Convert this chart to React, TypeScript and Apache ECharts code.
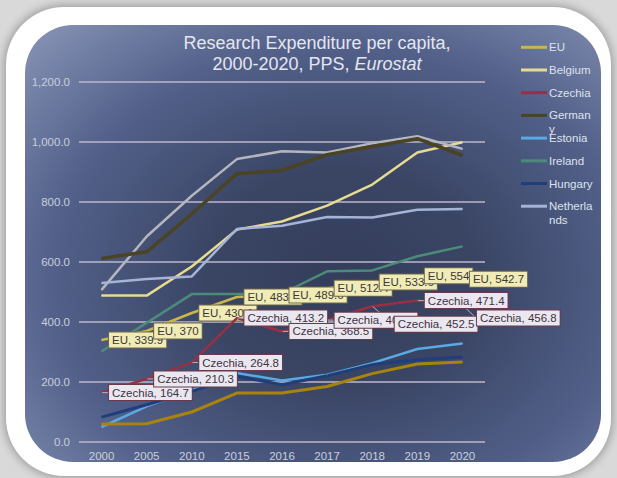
import React, { useEffect, useRef } from 'react';
import * as echarts from 'echarts';

const years = ['2000', '2005', '2010', '2015', '2016', '2017', '2018', '2019', '2020'];

const euValues = [339.9, 370, 430.1, 483.4, 489.6, 512.4, 533.6, 554, 542.7];
const belgiumValues = [488, 488, 585, 708, 735, 788, 858, 965, 999];
const czechiaValues = [164.7, 210.3, 264.8, 413.2, 368.5, 406.2, 452.5, 471.4, 456.8];
const germanyValues = [612, 634, 760, 894, 905, 958, 985, 1011, 955];
const estoniaValues = [50, 119, 174, 230, 205, 224, 263, 310, 328];
const irelandValues = [302, 397, 493, 493, 495, 569, 572, 619, 652];
const hungaryValues = [83, 124, 169, 219, 191, 221, 258, 274, 283];
const netherlandsValues = [530, 543, 552, 710, 721, 750, 748, 774, 777];
// two further series whose legend entries are cut off in the source chart
const hiddenGreyValues = [507, 685, 821, 943, 969, 965, 996, 1019, 977];
const hiddenGoldValues = [60, 61, 100, 163, 163, 185, 228, 260, 267];

const legendNames = ['EU', 'Belgium', 'Czechia', 'Germany', 'Estonia', 'Ireland', 'Hungary', 'Netherlands'];
const legendLabels = ['EU', 'Belgium', 'Czechia', 'German\ny', 'Estonia', 'Ireland', 'Hungary', 'Netherla\nnds'];

const colors: Record<string, string> = {
  EU: '#cbb64a',
  Belgium: '#e6db8e',
  Czechia: '#9a2f42',
  Germany: '#4a4324',
  Estonia: '#5aa9e2',
  Ireland: '#4b8c78',
  Hungary: '#203f7a',
  Netherlands: '#a5b3d8',
  Grey: '#b3b6be',
  Gold: '#a8840c',
};

const FONT = '"Liberation Sans", Arial, sans-serif';

// label nudges (Excel-style collision avoidance) for the crowded Czechia labels
const czechiaLabelNudge: Record<number, { dx: number; dy: number }> = {
  6: { dx: 15, dy: 18 },
  8: { dx: 7, dy: 13 },
};

function lineSeries(name: string, data: number[], color: string, width: number, extra: any = {}) {
  return {
    type: 'line',
    name,
    data,
    symbol: 'circle',
    symbolSize: 1,
    showSymbol: true,
    silent: true,
    lineStyle: { color, width },
    itemStyle: { color },
    ...extra,
  };
}

function labelCfg(prefix: string, bg: string, border: string, color: string) {
  return {
    show: true,
    position: 'right',
    distance: 7,
    formatter: (p: any) => `${prefix}, ${p.value}`,
    backgroundColor: bg,
    borderColor: border,
    borderWidth: 1,
    padding: [2, 3, 1, 3],
    color,
    fontSize: 11.5,
    fontFamily: FONT,
  };
}

export default function App() {
  const ref = useRef<HTMLDivElement>(null);

  useEffect(() => {
    if (!ref.current) return;
    const chart = echarts.init(ref.current, undefined, { renderer: 'svg' });

    const legendTop = 47.3;
    const legendStep = 22.7;
    const legendGraphics: any[] = [];
    legendNames.forEach((n, i) => {
      const y = legendTop + i * legendStep;
      legendGraphics.push({
        type: 'line',
        shape: { x1: 521, y1: y, x2: 547, y2: y },
        style: { stroke: colors[n], lineWidth: 3 },
        silent: true,
      });
      legendGraphics.push({
        type: 'text',
        x: 549,
        y: y - 7,
        style: {
          text: legendLabels[i],
          fill: '#dfe2ec',
          fontSize: 11.5,
          fontFamily: FONT,
          lineHeight: 14,
          verticalAlign: 'top',
          align: 'left',
        },
        silent: true,
      });
    });

    chart.setOption({
      animation: false,
      backgroundColor: 'transparent',
      title: {
        text: 'Research Expenditure per capita,\n2000-2020, PPS, {it|Eurostat}',
        left: 312,
        top: 27,
        textAlign: 'center',
        textStyle: {
          color: '#e4e6ee',
          fontSize: 18,
          fontWeight: 'normal',
          fontFamily: FONT,
          lineHeight: 21,
          rich: {
            it: { fontStyle: 'italic', color: '#e4e6ee', fontSize: 18, fontFamily: FONT, lineHeight: 21 },
          },
        },
      },
      grid: { left: 79, right: 132, top: 82, bottom: 36 },
      xAxis: {
        type: 'category',
        data: years,
        boundaryGap: true,
        axisLine: { show: false },
        axisTick: { show: false },
        axisLabel: { color: '#cacedc', fontSize: 11.5, fontFamily: FONT, margin: 8 },
      },
      yAxis: {
        type: 'value',
        min: 0,
        max: 1200,
        interval: 200,
        axisLine: { show: false },
        axisTick: { show: false },
        axisLabel: {
          color: '#cacedc',
          fontSize: 11.5,
          fontFamily: FONT,
          margin: 9,
          formatter: (v: number) =>
            v.toLocaleString('en-US', { minimumFractionDigits: 1, maximumFractionDigits: 1 }),
        },
        splitLine: { lineStyle: { color: '#bcb7cc', width: 1.5 } },
      },
      graphic: legendGraphics,
      series: [
        lineSeries('Belgium', belgiumValues, colors.Belgium, 2.5),
        lineSeries('Series 9', hiddenGreyValues, colors.Grey, 2.5),
        lineSeries('Germany', germanyValues, colors.Germany, 3.5),
        lineSeries('Netherlands', netherlandsValues, colors.Netherlands, 2.5),
        lineSeries('Ireland', irelandValues, colors.Ireland, 2.5),
        lineSeries('Estonia', estoniaValues, colors.Estonia, 2.5),
        lineSeries('Hungary', hungaryValues, colors.Hungary, 3),
        lineSeries('Series 10', hiddenGoldValues, colors.Gold, 3),
        lineSeries('EU', euValues, colors.EU, 2.5, {
          z: 4,
          label: labelCfg('EU', '#f1ebb6', '#6e6748', '#3a3a3a'),
        }),
        lineSeries('Czechia', czechiaValues, colors.Czechia, 2.5, {
          z: 5,
          label: labelCfg('Czechia', '#ebe7f1', '#6b3a46', '#403440'),
          labelLine: { show: true, lineStyle: { color: '#b4b0c0', width: 1 } },
          labelLayout: (p: any) => czechiaLabelNudge[p.dataIndex] || {},
        }),
      ],
    });

    return () => chart.dispose();
  }, []);

  return (
    <div style={{ position: 'absolute', left: 0, top: 0, width: 617, height: 478, background: '#d9d9d9', overflow: 'hidden' }}>
      <div
        style={{
          position: 'absolute',
          left: 6,
          top: 7,
          width: 605,
          height: 469,
          borderRadius: 58,
          background: '#ffffff',
          boxShadow: '0 0 9px 2px rgba(0,0,0,0.28)',
        }}
      />
      <div
        style={{
          position: 'absolute',
          left: 25,
          top: 25,
          width: 576,
          height: 437,
          borderRadius: 48,
          background:
            'radial-gradient(ellipse farthest-corner at 55% 58%, #343e5b 0%, #3a4564 30%, #52608a 65%, #8a96b8 100%)',
        }}
      />
      <div ref={ref} style={{ position: 'absolute', left: 0, top: 0, width: 617, height: 478 }} />
    </div>
  );
}
